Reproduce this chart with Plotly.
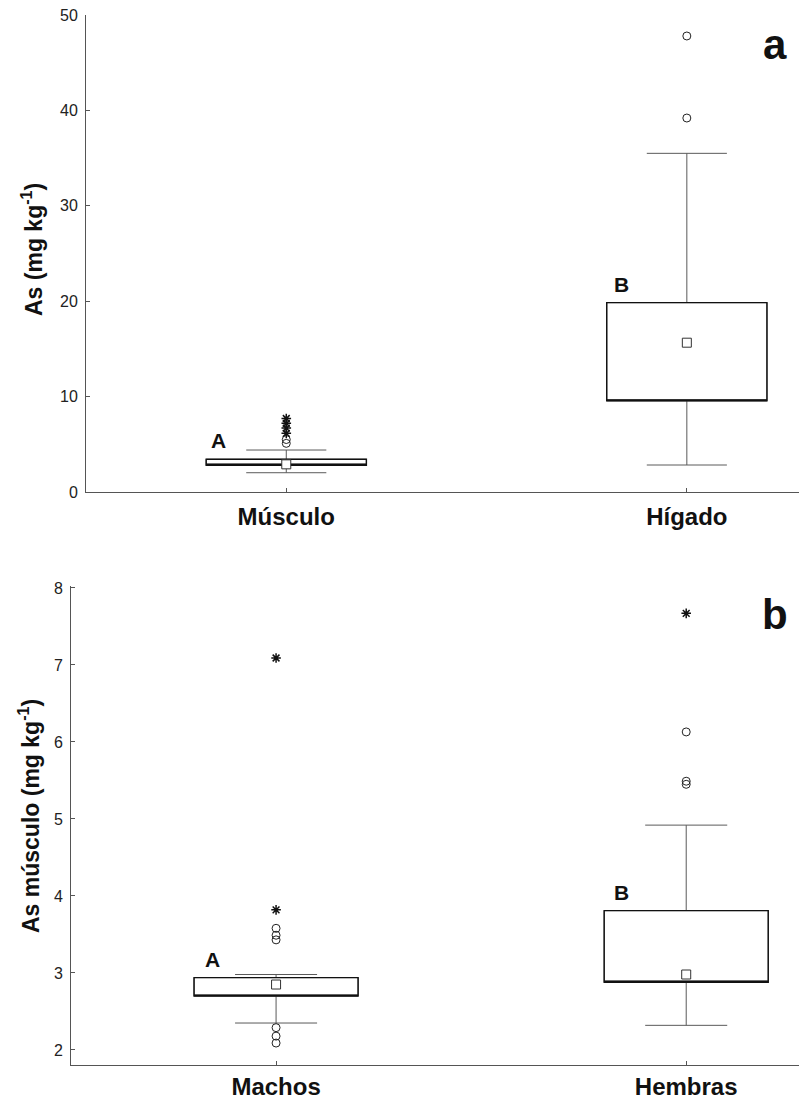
import plotly.graph_objects as go

FONT = "Liberation Sans, Arial, sans-serif"

# ---- Panel a data ----
cats_a = ["Músculo", "Hígado"]
q1_a = [2.80, 9.55]
q3_a = [3.43, 19.85]
med_a = [2.90, 15.65]
lo_a = [2.02, 2.83]
hi_a = [4.40, 35.5]
out_a = {"Músculo": [5.1, 5.5], "Hígado": [39.2, 47.8]}
ext_a = {"Músculo": [6.15, 6.7, 7.2, 7.7], "Hígado": []}
letters_a = ["A", "B"]

# ---- Panel b data ----
cats_b = ["Machos", "Hembras"]
q1_b = [2.70, 2.88]
q3_b = [2.94, 3.81]
med_b = [2.85, 2.98]
lo_b = [2.35, 2.32]
hi_b = [2.98, 4.92]
out_b = {"Machos": [2.09, 2.18, 2.29, 3.43, 3.49, 3.58], "Hembras": [5.45, 5.49, 6.13]}
ext_b = {"Machos": [3.82, 7.09], "Hembras": [7.67]}
letters_b = ["A", "B"]

fig = go.Figure()

def add_panel(cats, q1, q3, med, lo, hi, outs, exts, xa, ya):
    for i, c in enumerate(cats):
        # whiskers (grey, thin)
        fig.add_trace(go.Box(
            x=[c], q1=[q1[i]], median=[q1[i]], q3=[q3[i]],
            lowerfence=[lo[i]], upperfence=[hi[i]],
            width=0.4, whiskerwidth=0.5, fillcolor="white",
            line=dict(color="#5a5a5a", width=1), boxpoints=False,
            xaxis=xa, yaxis=ya, showlegend=False, hoverinfo="skip"))
        # box outline (black)
        fig.add_trace(go.Box(
            x=[c], q1=[q1[i]], median=[q1[i]], q3=[q3[i]],
            lowerfence=[q1[i]], upperfence=[q3[i]],
            width=0.4, whiskerwidth=0, fillcolor="rgba(0,0,0,0)",
            line=dict(color="#111111", width=1.4), boxpoints=False,
            xaxis=xa, yaxis=ya, showlegend=False, hoverinfo="skip"))
        # median square
        fig.add_trace(go.Scatter(
            x=[c], y=[med[i]], mode="markers",
            marker=dict(symbol="square", size=9, color="white",
                        line=dict(color="#333333", width=1)),
            xaxis=xa, yaxis=ya, showlegend=False, hoverinfo="skip"))
        if outs[c]:
            fig.add_trace(go.Scatter(
                x=[c] * len(outs[c]), y=outs[c], mode="markers",
                marker=dict(symbol="circle-open", size=8, color="#222222",
                            line=dict(width=1)),
                xaxis=xa, yaxis=ya, showlegend=False, hoverinfo="skip"))
        if exts[c]:
            fig.add_trace(go.Scatter(
                x=[c] * len(exts[c]), y=exts[c], mode="markers",
                marker=dict(symbol="asterisk-open", size=8, color="#111111",
                            line=dict(width=1.5, color="#111111")),
                xaxis=xa, yaxis=ya, showlegend=False, hoverinfo="skip"))

add_panel(cats_a, q1_a, q3_a, med_a, lo_a, hi_a, out_a, ext_a, "x", "y")
add_panel(cats_b, q1_b, q3_b, med_b, lo_b, hi_b, out_b, ext_b, "x2", "y2")

axis_common = dict(showline=True, linecolor="#555555", linewidth=1,
                   ticks="inside", ticklen=4, tickcolor="#555555",
                   showgrid=False, zeroline=False, automargin=False)

W, H = 799, 1099
fig.update_layout(
    width=W, height=H, margin=dict(l=0, r=0, t=0, b=0, autoexpand=False),
    plot_bgcolor="white", paper_bgcolor="white",
    boxmode="overlay", showlegend=False,
    font=dict(family=FONT, color="#222222"),
    xaxis=dict(axis_common, type="category", categoryorder="array", categoryarray=cats_a,
               range=[-0.5, 1.28], domain=[86 / W, 1], anchor="y",
               tickfont=dict(size=24, color="#111111"), ticklabelstandoff=3,
               tickvals=cats_a, ticktext=["<b>%s</b>" % c for c in cats_a]),
    yaxis=dict(axis_common, range=[0, 50], dtick=10,
               domain=[(H - 492) / H, (H - 15) / H], anchor="x",
               tickfont=dict(size=16, color="#222222"), ticklabelstandoff=4),
    xaxis2=dict(axis_common, type="category", categoryorder="array", categoryarray=cats_b,
                range=[-0.5, 1.275], domain=[71 / W, 1], anchor="y2",
                tickfont=dict(size=24, color="#111111"),
                tickvals=cats_b, ticktext=["<b>%s</b>" % c for c in cats_b]),
    yaxis2=dict(axis_common, range=[1.805, 8.025], dtick=1,
                domain=[(H - 1065) / H, (H - 586) / H], anchor="x2",
                tickfont=dict(size=16, color="#222222"), ticklabelstandoff=4),
)

ann = []
# group letters
ann.append(dict(x=-0.168, y=5.35, xref="x", yref="y", text="<b>%s</b>" % letters_a[0]))
ann.append(dict(x=0.838, y=21.7, xref="x", yref="y", text="<b>%s</b>" % letters_a[1]))
ann.append(dict(x=-0.155, y=3.17, xref="x2", yref="y2", text="<b>%s</b>" % letters_b[0]))
ann.append(dict(x=0.842, y=4.04, xref="x2", yref="y2", text="<b>%s</b>" % letters_b[1]))
for a in ann:
    a.update(showarrow=False, font=dict(size=21, color="#111111", family=FONT))
# panel letters
ann.append(dict(x=1.22, y=46.9, xref="x", yref="y", text="<b>a</b>", showarrow=False,
                font=dict(size=42, color="#111111", family=FONT)))
ann.append(dict(x=1.217, y=7.66, xref="x2", yref="y2", text="<b>b</b>", showarrow=False,
                font=dict(size=42, color="#111111", family=FONT)))
# y axis titles
ann.append(dict(x=32 / W, y=(H - 250) / H, xref="paper", yref="paper",
                xanchor="center", yanchor="middle",
                text="<b>As (mg kg<sup>-1</sup>)</b>", textangle=-90, showarrow=False,
                font=dict(size=23, color="#111111", family=FONT)))
ann.append(dict(x=29 / W, y=(H - 816) / H, xref="paper", yref="paper",
                xanchor="center", yanchor="middle",
                text="<b>As músculo (mg kg<sup>-1</sup>)</b>", textangle=-90, showarrow=False,
                font=dict(size=23, color="#111111", family=FONT)))
fig.update_layout(annotations=ann)

fig.write_html("out.html")
